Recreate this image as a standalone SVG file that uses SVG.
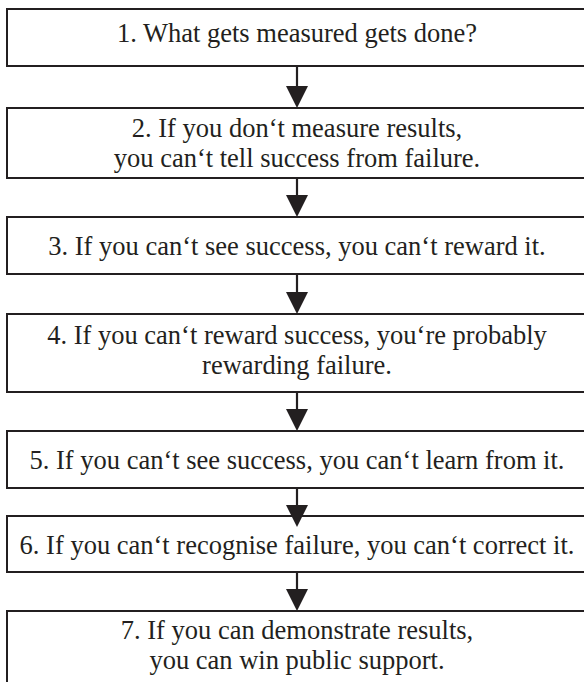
<svg xmlns="http://www.w3.org/2000/svg" width="584" height="682" viewBox="0 0 584 682">
<style>
.box{fill:#ffffff;stroke:#231f20;stroke-width:2}
.t{font-size:26.5px;fill:#231f20;text-anchor:middle}
.shaft{stroke:#231f20;stroke-width:2.2;fill:none}
.head{fill:#231f20}
</style>
<rect width="584" height="682" fill="#ffffff"/>
<g id="connectors">
<line class="shaft" x1="297" y1="66" x2="297" y2="88"/><polygon class="head" points="286,86 308,86 297,108"/>
<line class="shaft" x1="297" y1="178" x2="297" y2="197"/><polygon class="head" points="286,195 308,195 297,217"/>
<line class="shaft" x1="297" y1="274" x2="297" y2="294"/><polygon class="head" points="286,292 308,292 297,314"/>
<line class="shaft" x1="297" y1="392" x2="297" y2="411"/><polygon class="head" points="286,409 308,409 297,431"/>
<line class="shaft" x1="297" y1="572" x2="297" y2="591"/><polygon class="head" points="286,589 308,589 297,611"/>
</g>
<g font-family="Liberation Serif, DejaVu Serif, Noto Serif, serif">
<g id="n1"><rect class="box" x="7" y="9" width="584" height="57"/><text class="t" x="297" y="42">1. What gets measured gets done?</text></g>
<g id="n2"><rect class="box" x="7" y="108" width="584" height="70"/><text class="t" x="297" y="137">2. If you don‘t measure results,</text><text class="t" x="297" y="167">you can‘t tell success from failure.</text></g>
<g id="n3"><rect class="box" x="7" y="217" width="584" height="57"/><text class="t" x="297" y="255">3. If you can‘t see success, you can‘t reward it.</text></g>
<g id="n4"><rect class="box" x="7" y="314" width="584" height="78"/><text class="t" x="297" y="344">4. If you can‘t reward success, you‘re probably</text><text class="t" x="297" y="374">rewarding failure.</text></g>
<g id="n5"><rect class="box" x="7" y="431" width="584" height="57"/><text class="t" x="297" y="469">5. If you can‘t see success, you can‘t learn from it.</text></g>
<g id="n6"><rect class="box" x="7" y="516" width="584" height="56"/><text class="t" x="297" y="554">6. If you can‘t recognise failure, you can‘t correct it.</text></g>
<g id="n7"><rect class="box" x="7" y="611" width="584" height="90"/><text class="t" x="297" y="639">7. If you can demonstrate results,</text><text class="t" x="297" y="669">you can win public support.</text></g>
</g>
<g id="c56"><line class="shaft" x1="297" y1="488" x2="297" y2="507"/><polygon class="head" points="286,505 308,505 297,527"/></g>
</svg>
